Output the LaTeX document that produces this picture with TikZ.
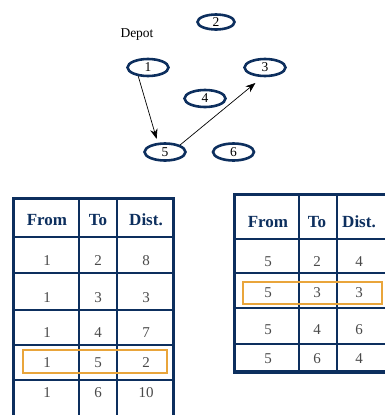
\documentclass[tikz,border=0pt]{standalone}
\usepackage{fontspec}
\setmainfont{Liberation Serif}
\usetikzlibrary{shapes.geometric,arrows.meta}
\definecolor{navy}{HTML}{0D2F5E}
\definecolor{hl}{HTML}{E9A53B}
\definecolor{num}{HTML}{4A4A4A}
\begin{document}
\begin{tikzpicture}[x=1pt,y=-1pt,
  city/.style={ellipse, draw=navy, line width=2.6pt, fill=white, minimum width=41pt, minimum height=17pt, inner sep=0pt, font=\fontsize{13.5}{13.5}\selectfont},
  conn/.style={-{Stealth[length=10pt,width=7.5pt]}, line width=0.7pt},
  outer/.style={draw=navy, line width=3.5pt},
  inner/.style={draw=navy, line width=1.1pt},
  hd/.style={font=\fontsize{17}{17}\selectfont\bfseries, text=navy},
  cell/.style={font=\fontsize{15}{15}\selectfont, text=num},
  hlbox/.style={draw=hl, line width=1.4pt},
  lbl/.style={font=\fontsize{13.5}{13.5}\selectfont}]
\useasboundingbox (0,0) rectangle (384,415);
\fill[white] (0,0) rectangle (384,415);
% graph
\node[lbl] (depot) at (137,35) {Depot};
\node[city] (n1) at (148,67.5) {1};
\node[city, minimum width=37pt, minimum height=15pt] (n2) at (216,22) {2};
\node[city] (n3) at (265,67.5) {3};
\node[city] (n4) at (205,98.5) {4};
\node[city] (n5) at (165,152) {5};
\node[city] (n6) at (233.5,152) {6};
\draw[conn, shorten >=4pt] (n1.222) -- (n5.128);
\draw[conn, shorten >=9pt] (n5.25) -- (n3.255);
% left table
\foreach \yy in {237,273,310,345,380} \draw[inner] (13.5,\yy) -- (173.5,\yy);
\foreach \xx in {79,117} \draw[inner] (\xx,198.5) -- (\xx,420);
\draw[outer] (173.5,420) -- (173.5,198.5) -- (13.5,198.5) -- (13.5,420);
\node[hd] (lh1) at (47,220) {From};
\node[hd] (lh2) at (98,220) {To};
\node[hd] (lh3) at (146,220) {Dist.};
\foreach \yy/\a/\b/\c [count=\i] in {261/1/2/8, 298/1/3/3, 333/1/4/7, 363/1/5/2, 393/1/6/10} {
  \node[cell] (la\i) at (47,\yy) {\a};
  \node[cell] (lb\i) at (98,\yy) {\b};
  \node[cell] (lc\i) at (146,\yy) {\c};
}
\draw[hlbox] (23,350) rectangle (167,373);
% right table
\foreach \yy in {239,273,308,344} \draw[inner] (234.5,\yy) -- (390,\yy);
\foreach \xx in {299,337} \draw[inner] (\xx,194.5) -- (\xx,372);
\draw[outer] (390,194.5) -- (234.5,194.5) -- (234.5,372) -- (390,372);
\node[hd] (rh1) at (268,222) {From};
\node[hd] (rh2) at (317,222) {To};
\node[hd] (rh3) at (359,222) {Dist.};
\foreach \yy/\a/\b/\c [count=\i] in {262/5/2/4, 293/5/3/3, 330/5/4/6, 359/5/6/4} {
  \node[cell] (ra\i) at (268,\yy) {\a};
  \node[cell] (rb\i) at (317,\yy) {\b};
  \node[cell] (rc\i) at (359,\yy) {\c};
}
\draw[hlbox] (243,282) rectangle (382,304);
\end{tikzpicture}
\end{document}
